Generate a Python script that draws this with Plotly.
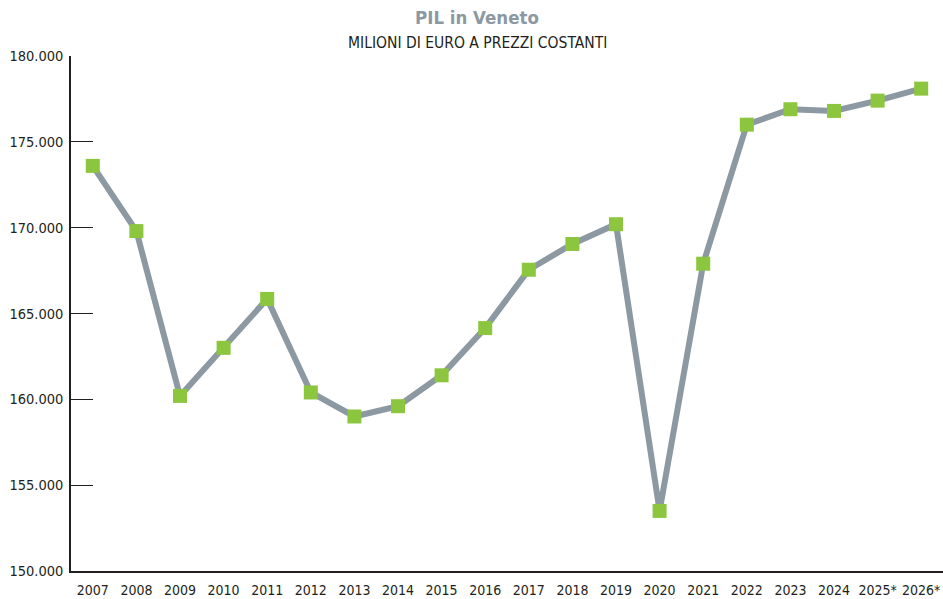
import plotly.graph_objects as go

years = ["2007", "2008", "2009", "2010", "2011", "2012", "2013", "2014", "2015", "2016",
         "2017", "2018", "2019", "2020", "2021", "2022", "2023", "2024", "2025*", "2026*"]
pil = [173.6, 169.8, 160.2, 163.0, 165.85, 160.4, 159.0, 159.6, 161.4, 164.15,
       167.55, 169.05, 170.2, 153.5, 167.9, 176.0, 176.9, 176.8, 177.4, 178.1]
y_ticks = [150, 155, 160, 165, 170, 175, 180]
y_tick_labels = ["150.000", "155.000", "160.000", "165.000", "170.000", "175.000", "180.000"]

FONT = "DejaVu Sans Condensed, Liberation Sans Narrow, sans-serif"

fig = go.Figure()
fig.add_trace(go.Scatter(
    x=list(range(len(years))), y=pil, mode="lines+markers",
    line=dict(color="#8c99a2", width=6),
    marker=dict(symbol="square", size=14, color="#8cc63f", line=dict(width=0)),
    hoverinfo="skip", showlegend=False, cliponaxis=False,
))

W, H = 943, 599
ML, MR, MT, MB = 71, 0, 56, 28
plot_h = H - MT - MB
plot_w = W - ML - MR

fig.update_layout(
    width=W, height=H,
    margin=dict(l=ML, r=MR, t=MT, b=MB),
    paper_bgcolor="white", plot_bgcolor="white",
    font=dict(family=FONT, size=14.5, color="#231f20"),
    xaxis=dict(
        range=[-0.5, 19.5], tickmode="array", tickvals=list(range(len(years))),
        ticktext=years, showgrid=False, zeroline=False, automargin=False,
        showline=True, linecolor="#231f20", linewidth=1.5, ticks="", tickangle=0,
        tickfont=dict(family=FONT, size=14, color="#231f20"),
        ticklabelstandoff=5, fixedrange=True,
    ),
    yaxis=dict(
        range=[150, 180], tickmode="array", tickvals=y_ticks, ticktext=y_tick_labels,
        showgrid=False, zeroline=False, showline=True, linecolor="#231f20", linewidth=1.5,
        ticks="inside", ticklen=22, tickwidth=1.2, tickcolor="#231f20", automargin=False,
        tickfont=dict(family=FONT, size=14.5, color="#231f20"),
        ticklabelstandoff=3, fixedrange=True,
    ),
    annotations=[
        dict(text="<b>PIL in Veneto</b>", xref="paper", yref="paper",
             x=(477 - 71) / plot_w, y=1 + (56 - 18) / plot_h,
             xanchor="center", yanchor="middle", showarrow=False,
             font=dict(family=FONT, size=18.5, color="#8c99a2")),
        dict(text="MILIONI DI EURO A PREZZI COSTANTI", xref="paper", yref="paper",
             x=(477 - 71) / plot_w, y=1 + (56 - 43) / plot_h,
             xanchor="center", yanchor="middle", showarrow=False,
             font=dict(family=FONT, size=15.5, color="#231f20")),
    ],
)

fig.write_html(
    "out.html",
    config={"displayModeBar": False},
    post_script="document.body.style.margin='0';document.body.style.overflow='hidden';",
)
